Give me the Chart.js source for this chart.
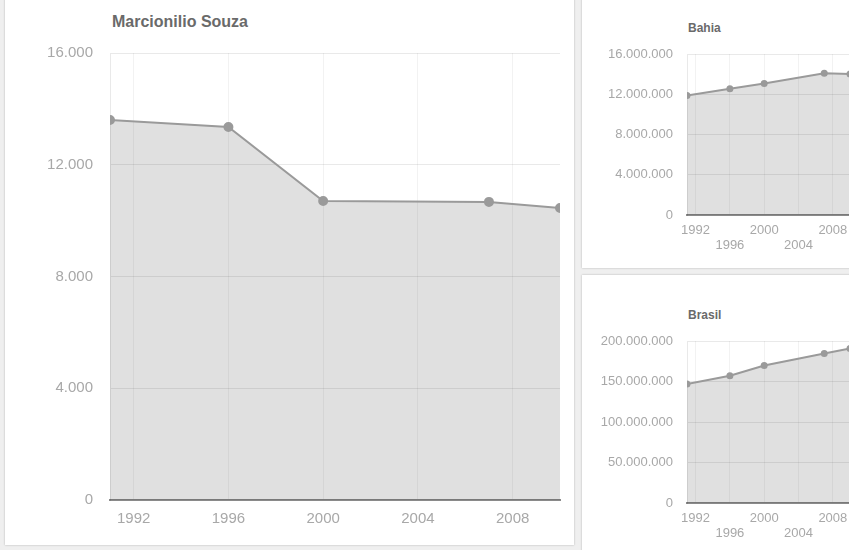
<!DOCTYPE html>
<html>
<head>
<meta charset="utf-8">
<script src="https://cdn.jsdelivr.net/npm/chart.js@4.4.1/dist/chart.umd.min.js"></script>
<style>
    html, body { margin: 0; padding: 0; }
    body {
        width: 849px; height: 550px; overflow: hidden;
        background: #efefef; position: relative;
        font-family: "Liberation Sans", Arial, sans-serif;
    }
    .card {
        position: absolute; background: #fff;
        box-shadow: 0 0 2px rgba(0, 0, 0, 0.25);
    }
    .title { position: absolute; font-weight: bold; color: #6a6a6a; }
    .box { position: absolute; }
</style>
</head>
<body>
<div class="card" style="left:5px; top:-5px; width:569px; height:550px;"></div>
<div class="card" style="left:582px; top:-5px; width:300px; height:273px;"></div>
<div class="card" style="left:582px; top:275px; width:300px; height:290px;"></div>

<div class="title" style="left:112px; top:13px; font-size:16px;">Marcionilio Souza</div>
<div class="title" style="left:688px; top:21px; font-size:12px;">Bahia</div>
<div class="title" style="left:688px; top:308px; font-size:12px;">Brasil</div>

<div class="box" style="left:5px; top:0; width:570px; height:545px;"><canvas id="souzaChart"></canvas></div>
<div class="box" style="left:582px; top:0; width:290px; height:266px;"><canvas id="bahiaChart"></canvas></div>
<div class="box" style="left:582px; top:287px; width:290px; height:263px;"><canvas id="brasilChart"></canvas></div>

<script>
// population by census / count year
const years = [1991, 1996, 2000, 2007, 2010];
const souzaPop = [13600, 13350, 10700, 10670, 10450];
const bahiaPop = [11870000, 12540000, 13070000, 14080000, 14020000];
const brasilPop = [147000000, 157100000, 169800000, 184500000, 190800000];
const yearTicks = [1992, 1996, 2000, 2004, 2008];

// thousands with a dot, like pt-BR
function fmt(v) {
    return String(v).replace(/\B(?=(\d{3})+(?!\d))/g, '.');
}

function makeChart(id, values, cfg) {
    const ctx = document.getElementById(id).getContext('2d');
    return new Chart(ctx, {
        type: 'line',
        data: {
            datasets: [{
                data: years.map((y, i) => ({ x: y, y: values[i] })),
                borderColor: '#9a9a9a',
                borderWidth: 2,
                backgroundColor: 'rgba(0, 0, 0, 0.12)',
                pointBackgroundColor: '#9a9a9a',
                pointBorderColor: '#9a9a9a',
                pointRadius: cfg.pointRadius,
                fill: 'origin',
                tension: 0
            }]
        },
        options: {
            responsive: true,
            maintainAspectRatio: false,
            animation: false,
            layout: { padding: { top: cfg.top, right: cfg.right, left: 0, bottom: 0 } },
            plugins: { legend: { display: false }, tooltip: { enabled: false } },
            scales: {
                x: {
                    type: 'linear',
                    min: 1991,
                    max: 2010,
                    afterBuildTicks: function(scale) {
                        scale.ticks = yearTicks.map(v => ({ value: v }));
                    },
                    afterFit: function(scale) { scale.height = cfg.xHeight; },
                    grid: { color: 'rgba(0, 0, 0, 0.05)', drawTicks: false },
                    border: { color: '#8a8a8a', width: 2 },
                    ticks: {
                        autoSkip: false,
                        maxRotation: 0,
                        padding: cfg.xPad,
                        color: '#a8a8a8',
                        font: { family: 'Liberation Sans', size: cfg.font, lineHeight: cfg.lineHeight },
                        callback: function(v, i) {
                            if (!cfg.stagger) return String(v);
                            return i % 2 === 0 ? [String(v), ''] : ['', String(v)];
                        }
                    }
                },
                y: {
                    min: 0,
                    max: cfg.max,
                    ticks: {
                        stepSize: cfg.max / 4,
                        padding: cfg.yPad,
                        color: '#a8a8a8',
                        font: { family: 'Liberation Sans', size: cfg.font },
                        callback: v => fmt(v)
                    },
                    afterFit: function(scale) { scale.width = cfg.yWidth; },
                    grid: { color: 'rgba(0, 0, 0, 0.085)', drawTicks: false },
                    border: { color: 'rgba(0, 0, 0, 0.085)', width: 1 }
                }
            }
        }
    });
}

// main chart
makeChart('souzaChart', souzaPop, {
    max: 16000, top: 53, right: 15, xHeight: 45, yWidth: 105,
    xPad: 10, yPad: 17, font: 15, lineHeight: 1.2, pointRadius: 4, stagger: false
});

// state and country
makeChart('bahiaChart', bahiaPop, {
    max: 16000000, top: 54, right: 22, xHeight: 51, yWidth: 105,
    xPad: 8, yPad: 14, font: 13, lineHeight: '15px', pointRadius: 2.5, stagger: true
});

makeChart('brasilChart', brasilPop, {
    max: 200000000, top: 54, right: 22, xHeight: 47, yWidth: 105,
    xPad: 8, yPad: 14, font: 13, lineHeight: '15px', pointRadius: 2.5, stagger: true
});
</script>
</body>
</html>
